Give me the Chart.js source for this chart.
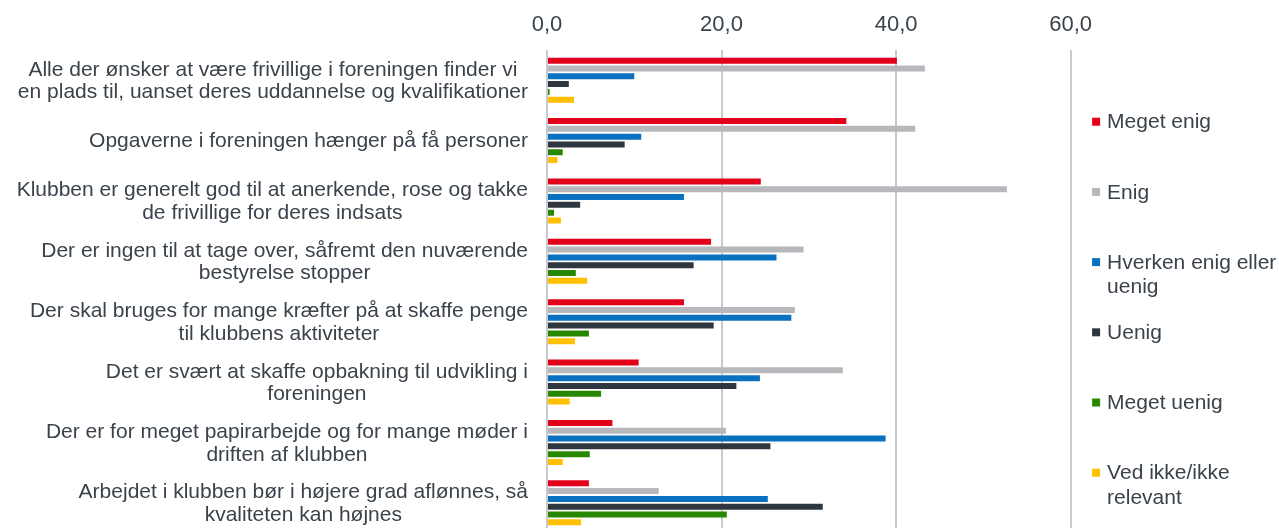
<!DOCTYPE html>
<html>
<head>
<meta charset="utf-8">
<script src="https://cdn.jsdelivr.net/npm/chart.js@4/dist/chart.umd.min.js"></script>
<style>
  html, body { margin: 0; padding: 0; background: #ffffff; overflow: hidden; }
  #wrap { width: 1279px; height: 533px; position: relative; }
</style>
</head>
<body>
<div id="wrap"><canvas id="c" width="1279" height="533"></canvas></div>
<script>
// ---- Data ----
const categories = [
  ["Alle der ønsker at være frivillige i foreningen finder vi", "en plads til, uanset deres uddannelse og kvalifikationer"],
  ["Opgaverne i foreningen hænger på få personer"],
  ["Klubben er generelt god til at anerkende, rose og takke", "de frivillige for deres indsats"],
  ["Der er ingen til at tage over, såfremt den nuværende", "bestyrelse stopper"],
  ["Der skal bruges for mange kræfter på at skaffe penge", "til klubbens aktiviteter"],
  ["Det er svært at skaffe opbakning til udvikling i", "foreningen"],
  ["Der er for meget papirarbejde og for mange møder i", "driften af klubben"],
  ["Arbejdet i klubben bør i højere grad aflønnes, så", "kvaliteten kan højnes"]
];

const seriesNames = ["Meget enig", "Enig", "Hverken enig eller uenig", "Uenig", "Meget uenig", "Ved ikke/ikke relevant"];
const legendLines = [["Meget enig"], ["Enig"], ["Hverken enig eller", "uenig"], ["Uenig"], ["Meget uenig"], ["Ved ikke/ikke", "relevant"]];

const megetEnig  = [40.1, 34.3, 24.5, 18.8, 15.7, 10.5, 7.5, 4.8];
const enig       = [43.3, 42.2, 52.7, 29.4, 28.4, 33.9, 20.5, 12.8];
const hverken    = [10.0, 10.8, 15.7, 26.3, 28.0, 24.4, 38.8, 25.3];
const uenig      = [2.5, 8.9, 3.8, 16.8, 19.1, 21.7, 25.6, 31.6];
const megetUenig = [0.3, 1.8, 0.8, 3.3, 4.8, 6.2, 4.9, 20.6];
const vedIkke    = [3.1, 1.2, 1.6, 4.6, 3.2, 2.6, 1.8, 3.9];

const xTickLabels = ["0,0", "20,0", "40,0", "60,0"];

// ---- Styles ----
const colors = ["#e3001b", "#b6b8bb", "#0a70c0", "#2e373f", "#288700", "#ffc000"];
const textColor = "#3a434c";
const gridColor = "#c9cacd";
const FONT = "'Liberation Sans', Arial, Helvetica, sans-serif";

const seriesValues = [megetEnig, enig, hverken, uenig, megetUenig, vedIkke];

const datasets = seriesValues.map((vals, i) => ({
  label: seriesNames[i],
  data: vals,
  backgroundColor: colors[i],
  borderWidth: 0,
  categoryPercentage: 0.775,
  barPercentage: 0.77
}));

// custom y labels: block right-aligned, lines centered in block
const yLabelPlugin = {
  id: 'yLabels',
  afterDraw(chart) {
    const ctx = chart.ctx;
    const ys = chart.scales.y;
    const right = 528;
    const lineH = 22.7;
    ctx.save();
    ctx.font = "21px " + FONT;
    ctx.fillStyle = textColor;
    ctx.textAlign = 'center';
    ctx.textBaseline = 'middle';
    categories.forEach((lines, i) => {
      const cy = ys.getPixelForValue(i);
      let maxW = 0;
      lines.forEach(l => { maxW = Math.max(maxW, ctx.measureText(l).width); });
      const cx = right - maxW / 2;
      lines.forEach((l, j) => {
        const y = cy + (j - (lines.length - 1) / 2) * lineH + 1;
        ctx.fillText(l, cx, y);
      });
    });
    ctx.restore();
  }
};

// custom legend on the right
const legendPlugin = {
  id: 'sideLegend',
  afterDraw(chart) {
    const ctx = chart.ctx;
    const x0 = chart.chartArea.right + 21.5;
    const firstY = 121.7;
    const step = 70.2;
    const lineH = 24.5;
    ctx.save();
    ctx.font = "21px " + FONT;
    ctx.textAlign = 'left';
    ctx.textBaseline = 'middle';
    chart.data.datasets.forEach((ds, i) => {
      const cy = firstY + i * step;
      ctx.fillStyle = ds.backgroundColor;
      ctx.fillRect(x0, cy - 4, 8, 8);
      ctx.fillStyle = textColor;
      legendLines[i].forEach((l, j) => {
        ctx.fillText(l, x0 + 15, cy + j * lineH + 1);
      });
    });
    ctx.restore();
  }
};

new Chart(document.getElementById('c'), {
  type: 'bar',
  data: { labels: categories, datasets },
  plugins: [yLabelPlugin, legendPlugin],
  options: {
    indexAxis: 'y',
    responsive: false,
    animation: false,
    layout: { padding: { left: 0, right: 208.4, top: 0, bottom: 0 } },
    plugins: { legend: { display: false }, tooltip: { enabled: false } },
    scales: {
      x: {
        position: 'top',
        min: 0,
        max: 60,
        afterFit(scale) { scale.height = 50; },
        ticks: {
          stepSize: 20,
          padding: 12,
          color: textColor,
          font: { family: FONT, size: 22 },
          callback: (v) => xTickLabels[Math.round(v / 20)]
        },
        grid: { color: gridColor, lineWidth: 2, drawTicks: false },
        border: { display: false }
      },
      y: {
        afterFit(scale) { scale.width = 547; },
        ticks: { display: false },
        grid: { display: false },
        border: { display: false }
      }
    }
  }
});
</script>
</body>
</html>
